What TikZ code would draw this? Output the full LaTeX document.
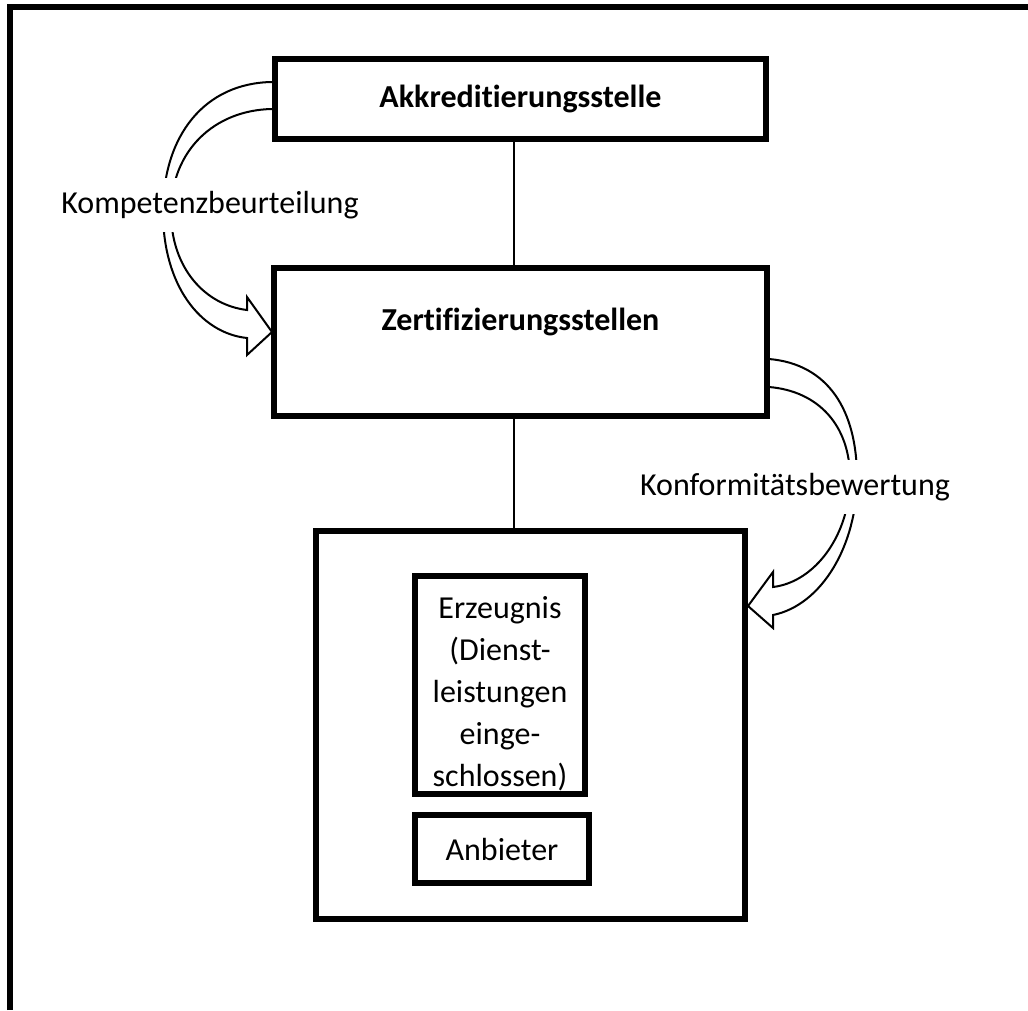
\documentclass[tikz,border=0pt]{standalone}
\usepackage{fontspec}
\setmainfont[Ligatures=NoCommon]{Carlito}
\begin{document}
\begin{tikzpicture}[x=1pt,y=-1pt,every node/.style={font=\fontsize{32}{42}\selectfont},
  box/.style={draw,line width=6pt,inner sep=0pt},
  link/.style={line width=2pt},
  bendarrow/.style={draw,line width=2pt,fill=white,line join=miter},
  gaplabel/.style={fill=white,inner xsep=0pt,inner ysep=13pt}]
\useasboundingbox (0,0) rectangle (1028,1010);
% frame, open at right and bottom
\draw[line width=6pt] (10,1010) -- (10,7) -- (1028,7);
% curved block arrows (drawn first, boxes go over their ends)
\draw[bendarrow] (275,82) -- (272,82) .. controls (205,83) and (163,135) .. (163,212) .. controls (163,285) and (200,333) .. (247,338)
  -- (247,355) -- (272,332) -- (247,297) -- (247,310) .. controls (205,305) and (171,268) .. (171,212) .. controls (171,150) and (215,110) .. (272,109) -- (275,109) -- cycle;
\draw[bendarrow] (766,359) -- (769,359) .. controls (828,364) and (857,410) .. (857,478) .. controls (857,545) and (822,605) .. (773,615)
  -- (773,628) -- (748,606) -- (773,572) -- (773,587) .. controls (815,582) and (850,535) .. (850,478) .. controls (850,425) and (818,391) .. (769,387) -- (766,387) -- cycle;
\node[gaplabel] (komp) at (210,205) {Kompetenzbeurteilung};
\node[gaplabel] (konf) at (795,487) {Konformitätsbewertung};
% boxes
\node[box,minimum width=491,minimum height=80] (akk) at (520.5,99) {\bfseries Akkreditierungsstelle};
\node[box,minimum width=493,minimum height=148] (zert) at (520.5,342) {};
\node[font=\fontsize{32}{42}\selectfont\bfseries] (zerttext) at ([yshift=20]zert.center) {Zertifizierungsstellen};
\node[box,minimum width=429,minimum height=388] (prod) at (530.5,725) {};
\node[box,minimum width=170,minimum height=218] (erz) at (500,685) {};
\node[align=center] (erztext) at ([yshift=-9]erz.center) {Erzeugnis\\(Dienst-\\leistungen\\einge-\\schlossen)};
\node[box,minimum width=174,minimum height=68] (anb) at (502,849) {Anbieter};
% links
\coordinate (spine) at (514,0);
\draw[link] (spine |- akk.south) -- (spine |- zert.north);
\draw[link] (spine |- zert.south) -- (spine |- prod.north);
\end{tikzpicture}
\end{document}
